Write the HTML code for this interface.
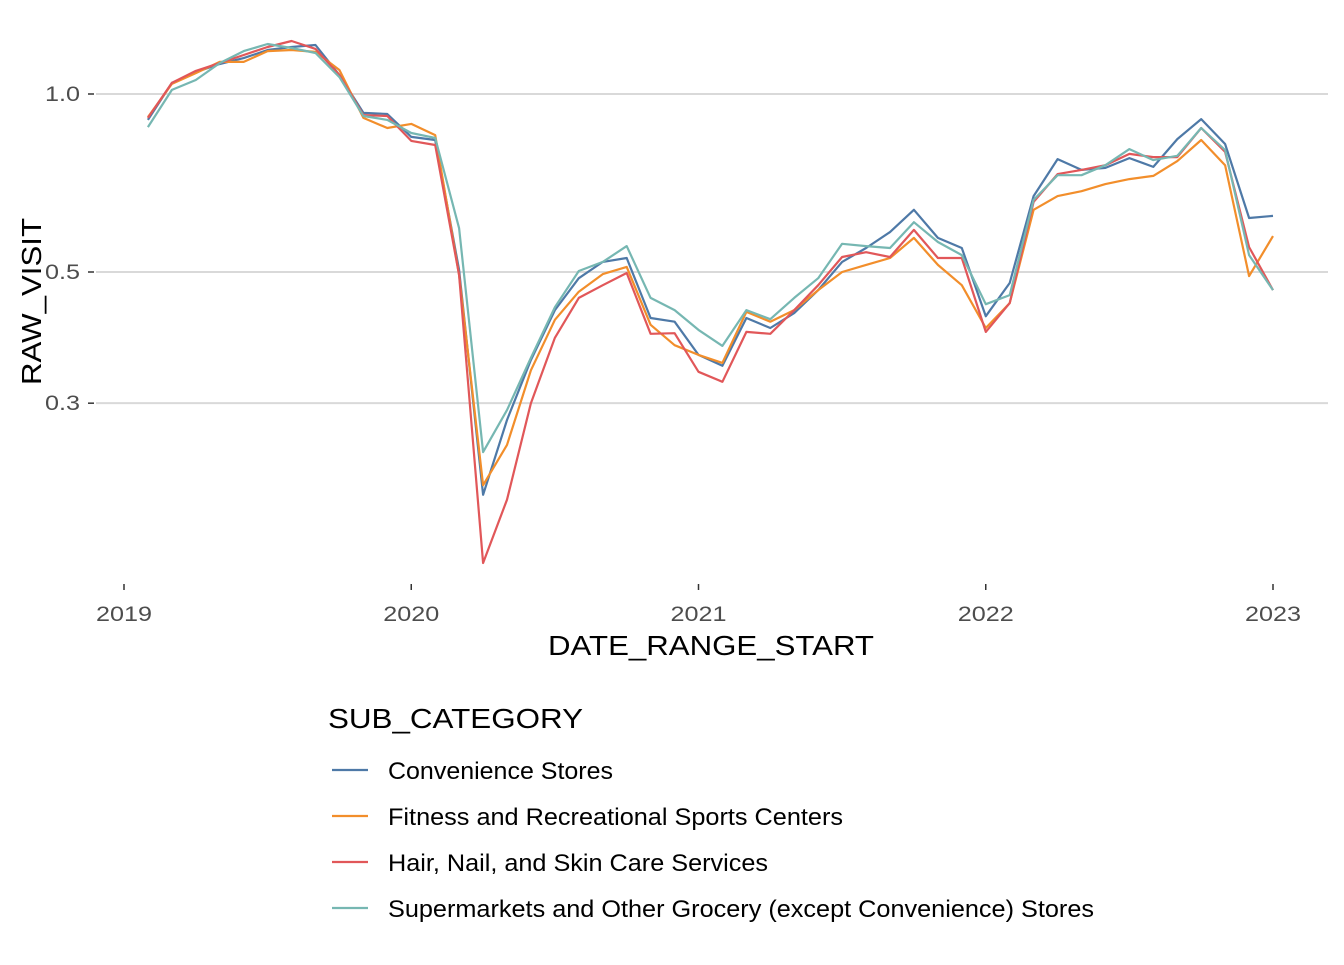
<!DOCTYPE html>
<html><head><meta charset="utf-8"><style>
body{margin:0;background:#fff;font-family:"Liberation Sans",sans-serif}
svg text{font-family:"Liberation Sans",sans-serif}
</style></head><body>
<svg id="chart" width="1344" height="960">
<g id="grid"></g>
<g id="yaxis"></g>
<g id="xaxis"></g>
<g id="lines"></g>
<text x="548" y="655" font-size="28" textLength="326" lengthAdjust="spacingAndGlyphs" fill="#000">DATE_RANGE_START</text>
<text transform="translate(41,385) rotate(-90)" font-size="28" textLength="167" lengthAdjust="spacingAndGlyphs" fill="#000">RAW_VISIT</text>
<g id="legend">
<text x="328" y="728" font-size="28" textLength="255" lengthAdjust="spacingAndGlyphs" fill="#000">SUB_CATEGORY</text>
</g>
</svg>
<script>
const seriesNames=["Convenience Stores","Fitness and Recreational Sports Centers","Hair, Nail, and Skin Care Services","Supermarkets and Other Grocery (except Convenience) Stores"];
const legendWidths=[225,455,380,706];
const colors=["#4e79a7","#f28e2b","#e15759","#76b7b2"];
const yTicks=[1.0,0.5,0.3];
const yTickLabels=["1.0","0.5","0.3"];
const xTicks=[2019,2020,2021,2022,2023];
const startYear=2019, startMonth=1;
const pix2v=p=>+Math.exp(-(p-94)/256.8).toFixed(3);
const convenience=[120,83,72,64,58,50,47,45,75,113,114,137,140,270,495,420,360,310,278,262,258,318,322,355,366,318,328,313,290,262,248,232,210,238,248,316,283,196,159,170,168,158,167,139,119,144,218,216].map(pix2v);
const fitness=[117,84,73,62,62,51,50,52,70,118,128,124,135,275,485,445,370,320,292,274,267,325,345,355,363,312,322,310,290,272,265,258,238,265,285,328,303,210,196,191,184,179,176,161,140,165,276,236].map(pix2v);
const hair=[118,83,71,63,55,47,41,49,75,115,116,141,145,275,563,500,403,338,298,285,273,334,333,372,382,332,334,310,285,257,252,257,230,258,258,332,303,202,174,170,165,154,157,157,128,152,247,290].map(pix2v);
const grocery=[127,90,80,63,51,44,48,53,77,116,120,133,138,228,452,410,358,307,271,262,246,298,310,330,346,310,319,298,278,244,246,248,222,242,255,304,295,200,175,175,165,149,160,156,128,150,255,290].map(pix2v);
const allSeries=[convenience,fitness,hair,grocery];
const NS="http://www.w3.org/2000/svg";
const xScale=yr=>124+(yr-2019)*287.25;
const yScale=v=>94-Math.log(v)*256.8;
const mk=(t,a,p)=>{const e=document.createElementNS(NS,t);for(const k in a)e.setAttribute(k,a[k]);p.appendChild(e);return e;};
const grid=document.getElementById('grid'),ya=document.getElementById('yaxis'),xa=document.getElementById('xaxis');
yTicks.forEach((v,i)=>{const y=yScale(v);
const g=mk('line',{x1:96,x2:1328,y1:y,y2:y,stroke:'#d9d9d9','stroke-width':2},grid);


const tk=mk('line',{x1:88,x2:94,y1:y,y2:y,stroke:'#333','stroke-width':1.5},ya);


const t=mk('text',{x:45,y:y+7,'font-size':21,textLength:35,lengthAdjust:'spacingAndGlyphs',fill:'#4d4d4d'},ya);t.textContent=yTickLabels[i];

});
xTicks.forEach(yr=>{const x=xScale(yr);
const tk=mk('line',{x1:x,x2:x,y1:584,y2:590,stroke:'#333','stroke-width':1.5},xa);


const t=mk('text',{x:x-28,y:621,'font-size':21,textLength:56,lengthAdjust:'spacingAndGlyphs',fill:'#4d4d4d'},xa);t.textContent=yr;

});
const lines=document.getElementById('lines');
allSeries.forEach((s,si)=>{const pts=s.map((v,i)=>xScale(startYear+(startMonth+i)/12).toFixed(1)+','+yScale(v).toFixed(1)).join(' ');
const p=mk('polyline',{points:pts,fill:'none',stroke:colors[si],'stroke-width':2.2,'stroke-linejoin':'round'},lines);

});
const leg=document.getElementById('legend');
seriesNames.forEach((n,i)=>{const y=770+i*46;
const l=mk('line',{x1:332,x2:368,y1:y,y2:y,stroke:colors[i],'stroke-width':2.2},leg);


const t=mk('text',{x:388,y:y+9,'font-size':24,textLength:legendWidths[i],lengthAdjust:'spacingAndGlyphs',fill:'#000'},leg);t.textContent=n;

});
</script>
</body></html>
